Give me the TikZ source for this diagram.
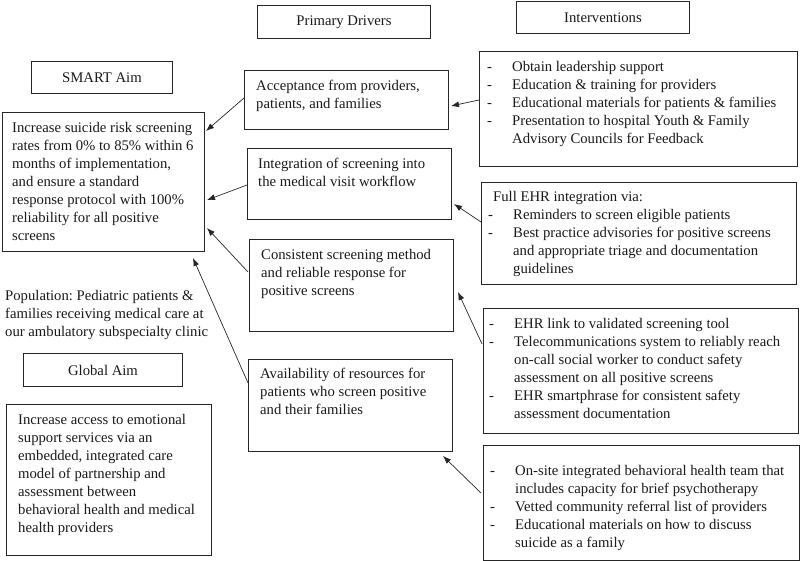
\documentclass[tikz,border=0pt]{standalone}
\usepackage{fontspec}
\setmainfont{Liberation Serif}
\usetikzlibrary{arrows.meta,calc}
\frenchspacing
\newcommand{\myDash}{\makebox[25pt][l]{-}}
\newcommand{\myInd}{\hspace*{25pt}}
\begin{document}
\begin{tikzpicture}[x=1pt,y=-1pt,
  every node/.style={font=\fontsize{14.7}{18}\selectfont\frenchspacing, text=black!90},
  box/.style={draw=black!85, line width=1pt, inner sep=0pt, anchor=north west},
  txt/.style={inner sep=0pt, anchor=north west, align=left},
  arr/.style={draw=black!85, line width=0.7pt, -{Latex[length=8pt,width=6pt]}}]
\useasboundingbox (0,0) rectangle (800,561);
% title boxes
\node[box, minimum width=173pt, minimum height=33pt] (pd) at (257,5) {Primary Drivers};
\node[box, minimum width=173pt, minimum height=32pt] (iv) at (516,1) {Interventions};
\node[box, minimum width=141pt, minimum height=32pt] (sa) at (31,61) {SMART Aim};
\node[box, minimum width=159pt, minimum height=33pt] (ga) at (23,353) {Global Aim};
% main boxes
\node[box, minimum width=202.5pt, minimum height=139pt] (smart) at (1.5,112) {};
\node[box, minimum width=204pt, minimum height=59pt] (acc) at (244,70) {};
\node[box, minimum width=318pt, minimum height=115pt] (b1) at (479,51) {};
\node[box, minimum width=204pt, minimum height=71pt] (integ) at (247,148) {};
\node[box, minimum width=315pt, minimum height=102pt] (ehr) at (481,182) {};
\node[box, minimum width=204pt, minimum height=92pt] (cons) at (249,239) {};
\node[box, minimum width=315pt, minimum height=125pt] (b3) at (483,308) {};
\node[box, minimum width=204pt, minimum height=92pt] (avail) at (248,359) {};
\node[box, minimum width=316pt, minimum height=115pt] (b4) at (483,445) {};
\node[box, minimum width=205pt, minimum height=151pt] (gbox) at (6,404) {};
% texts
\node[txt] (smartT) at (12,119.4) {\strut Increase suicide risk screening\\rates from 0\% to 85\% within 6\\months of implementation,\\and ensure a standard\\response protocol with 100\%\\reliability for all positive\\screens};
\node[txt] (accT) at (256,77.4) {\strut Acceptance from providers,\\patients, and families};
\node[txt] (integT) at (258,155.4) {\strut Integration of screening into\\the medical visit workflow};
\node[txt] (consT) at (261,246.4) {\strut Consistent screening method\\and reliable response for\\positive screens};
\node[txt] (availT) at (260,365.4) {\strut Availability of resources for\\patients who screen positive\\and their families};
\node[txt] (popT) at (5,287.4) {\strut Population: Pediatric patients \&\\families receiving medical care at\\our ambulatory subspecialty clinic};
\node[txt] (gT) at (18,411.4) {\strut Increase access to emotional\\support services via an\\embedded, integrated care\\model of partnership and\\assessment between\\behavioral health and medical\\health providers};
\node[txt] (b1T) at (487,58.4) {\strut\myDash Obtain leadership support\\\myDash Education \& training for providers\\\myDash Educational materials for patients \& families\\\myDash Presentation to hospital Youth \& Family\\\myInd Advisory Councils for Feedback};
\node[txt] (ehrT) at (488,188.4) {\strut\hspace*{5pt}Full EHR integration via:\\\myDash Reminders to screen eligible patients\\\myDash Best practice advisories for positive screens\\\myInd and appropriate triage and documentation\\\myInd guidelines};
\node[txt] (b3T) at (489,315.4) {\strut\myDash EHR link to validated screening tool\\\myDash Telecommunications system to reliably reach\\\myInd on-call social worker to conduct safety\\\myInd assessment on all positive screens\\\myDash EHR smartphrase for consistent safety\\\myInd assessment documentation};
\node[txt] (b4T) at (490,462.4) {\strut\myDash On-site integrated behavioral health team that\\\myInd includes capacity for brief psychotherapy\\\myDash Vetted community referral list of providers\\\myDash Educational materials on how to discuss\\\myInd suicide as a family};
% arrows
\draw[arr] ($(b1.north west)+(0,49)$) -- ($(acc.north east)+(2,36)$);
\draw[arr] ($(acc.north west)+(0,28)$) -- ($(smart.north east)+(1,19)$);
\draw[arr] ($(integ.north west)+(0,37)$) -- ($(smart.north east)+(2,88)$);
\draw[arr] ($(ehr.north west)+(0,40)$) -- ($(integ.north east)+(2,56)$);
\draw[arr] ($(cons.north west)+(-1,33)$) -- ($(smart.north east)+(2,116)$);
\draw[arr] ($(b3.north west)+(-1,36)$) -- ($(cons.north east)+(4,53)$);
\draw[arr] ($(avail.north west)+(0,24)$) -- ($(smart.south east)+(-12,6)$);
\draw[arr] ($(b4.north west)+(-2,48)$) -- ($(avail.south east)+(-10,4)$);
\end{tikzpicture}
\end{document}
